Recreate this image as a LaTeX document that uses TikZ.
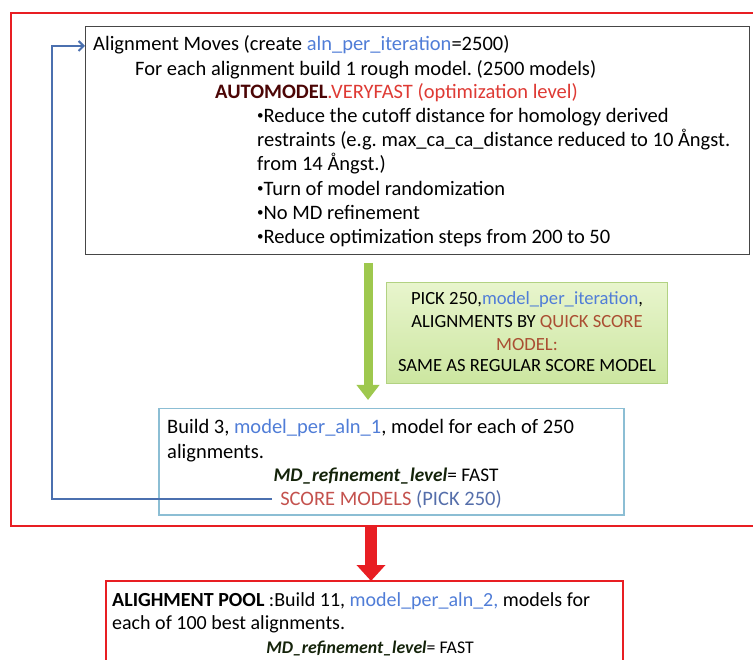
\documentclass[tikz,border=0pt]{standalone}
\usepackage{fontspec}
\setmainfont{Carlito}
\frenchspacing
\usetikzlibrary{arrows.meta}
\definecolor{varblue}{RGB}{80,125,215}
\definecolor{vfred}{RGB}{222,58,52}
\definecolor{automod}{RGB}{75,5,5}
\definecolor{quickbrown}{RGB}{170,78,50}
\definecolor{scorered}{RGB}{196,82,78}
\definecolor{pickblue}{RGB}{85,110,170}
\definecolor{frameRed}{RGB}{232,30,35}
\definecolor{loopblue}{RGB}{75,112,175}
\definecolor{bboxgray}{RGB}{70,70,70}
\definecolor{lightblue}{RGB}{140,190,212}
\definecolor{greenTop}{RGB}{232,245,205}
\definecolor{greenBot}{RGB}{204,230,160}
\definecolor{greenEdge}{RGB}{178,210,130}
\definecolor{greenArrow}{RGB}{158,200,78}
\definecolor{mdgreen}{RGB}{20,35,10}
\newcommand{\smallbul}{\raisebox{0.18em}{\fontsize{13}{13}\selectfont •}}
\begin{document}
\begin{tikzpicture}[x=1pt,y=-1pt,
  font=\fontsize{20.5}{24}\selectfont,
  txt/.style={anchor=base west, inner sep=0pt},
  ctxt/.style={anchor=base, inner ysep=0pt, inner xsep=8pt},
  boxnode/.style={anchor=north west, inner sep=0pt},
  greentxt/.style={ctxt, font=\fontsize{18.6}{22}\selectfont},
  bottomtxt/.style={font=\fontsize{20}{24}\selectfont}]
\useasboundingbox (0,0) rectangle (753,660);

% outer red frame (right side beyond the picture)
\draw[frameRed, line width=2pt] (753,13) -- (11,13) -- (11,526) -- (753,526);
\coordinate (outerbot) at (371,526);

% black box
\node[boxnode, draw=bboxgray, line width=1.3pt, minimum width=664pt, minimum height=228pt] (bbox) at (85,26) {};
\node[txt] (l1) at (93,51) {Alignment Moves (create \textcolor{varblue}{aln\_per\_iteration}=2500)};
\node[txt] (l2) at (135,76) {For each alignment build 1 rough model. (2500 models)};
\node[txt] (l3) at (215,99) {\textbf{\textcolor{automod}{AUTOMODEL}}\textcolor{vfred}{.VERYFAST (optimization level)}};
\node[txt] (l4) at (257,123) {\smallbul Reduce the cutoff distance for homology derived};
\node[txt] (l5) at (257,147) {restraints (e.g. max\_ca\_ca\_distance reduced to 10 Ångst.};
\node[txt] (l6) at (257,171) {from 14 Ångst.)};
\node[txt] (l7) at (257,196) {\smallbul Turn of model randomization};
\node[txt] (l8) at (257,220) {\smallbul No MD refinement};
\node[txt] (l9) at (257,244) {\smallbul Reduce optimization steps from 200 to 50};

% green box
\node[boxnode, draw=greenEdge, line width=1pt, top color=greenTop, bottom color=greenBot, minimum width=281pt, minimum height=101pt] (gbox) at (386,282) {};
\node[greentxt] (g1) at (527,305) {PICK 250,\textcolor{varblue}{model\_per\_iteration},};
\node[greentxt] (g2) at (527,328) {ALIGNMENTS BY \textcolor{quickbrown}{QUICK SCORE}};
\node[greentxt] (g3) at (527,351) {\textcolor{quickbrown}{MODEL:}};
\node[greentxt] (g4) at (527,372) {SAME AS REGULAR SCORE MODEL};

% light blue box
\node[boxnode, draw=lightblue, line width=1.5pt, minimum width=465pt, minimum height=106pt] (lbox) at (158,408) {};
\node[txt] (b1) at (167,434) {Build 3, \textcolor{varblue}{model\_per\_aln\_1}, model for each of 250};
\node[txt] (b2) at (167,458) {alignments.};
\node[ctxt] (b3) at (386,482) {\fontsize{19.3}{24}\selectfont\textcolor{mdgreen}{\textbf{\textit{MD\_refinement\_level}}}= FAST};
\node[ctxt] (b4) at (391,505) {\textcolor{scorered}{SCORE MODELS} \textcolor{pickblue}{(PICK 250)}};

% green arrow between black box and light blue box
\coordinate (gstart) at (368,263);
\coordinate (gend) at (368,400);
\draw[greenArrow, line width=9pt, -{Triangle[length=15pt,width=22pt]}] (gstart) -- (gend);

% blue loop back
\coordinate (lc) at (52,46);
\draw[loopblue, line width=2pt, -{Straight Barb[length=5pt,width=10pt]}]
  (b4.west) -| (lc) -- (bbox.west |- lc);

% bottom red box (continues below the picture)
\draw[frameRed, line width=2.5pt] (106,660) -- (106,581) -- (623,581) -- (623,660);
\coordinate (pooltop) at (371,581);
\node[txt, bottomtxt] (p1) at (112,606) {\textbf{ALIGHMENT POOL} :Build 11, \textcolor{varblue}{model\_per\_aln\_2,} models for};
\node[txt, bottomtxt] (p2) at (112,629) {each of 100 best alignments.};
\node[ctxt] (p3) at (370,653) {\fontsize{17.8}{22}\selectfont\textcolor{mdgreen}{\textbf{\textit{MD\_refinement\_level}}}= FAST};

% red arrow
\draw[frameRed, line width=12pt, -{Triangle[length=16pt,width=28pt]}] (outerbot) -- (pooltop);
\end{tikzpicture}
\end{document}
